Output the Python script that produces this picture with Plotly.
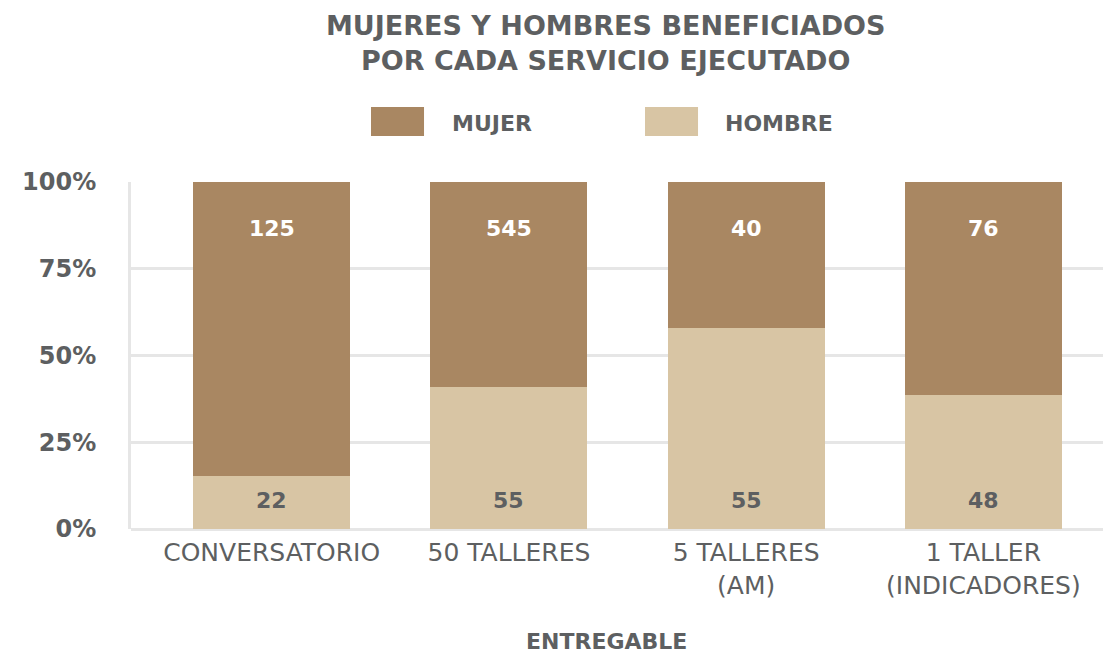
import plotly.graph_objects as go

# ---- data ----
categories = ["CONVERSATORIO", "50 TALLERES", "5 TALLERES<br>(AM)", "1 TALLER<br>(INDICADORES)"]
mujer_count = [125, 545, 40, 76]
hombre_count = [22, 55, 55, 48]
# share of each bar (percent) as drawn in the reference
hombre_pct = [15.2, 40.9, 57.8, 38.6]
mujer_pct = [84.8, 59.1, 42.2, 61.4]
y_ticks = [0, 25, 50, 75, 100]
y_tick_labels = ["0%", "25%", "50%", "75%", "100%"]

# ---- style ----
C_MUJER = "#A98762"
C_HOMBRE = "#D8C5A4"
C_TEXT = "#5d5f61"
C_GRID = "#e6e6e6"
FONT = "DejaVu Sans"

fig = go.Figure()
fig.add_trace(go.Bar(x=categories, y=hombre_pct, name="HOMBRE",
                     marker=dict(color=C_HOMBRE, line=dict(width=0)),
                     hoverinfo="skip", showlegend=False))
fig.add_trace(go.Bar(x=categories, y=mujer_pct, name="MUJER",
                     marker=dict(color=C_MUJER, line=dict(width=0)),
                     hoverinfo="skip", showlegend=False))

annotations = []
# value labels
for cat, m, h in zip(categories, mujer_count, hombre_count):
    annotations.append(dict(x=cat, y=100, xref="x", yref="y", yshift=-46,
                            text=f"<b>{m}</b>", showarrow=False,
                            font=dict(family=FONT, size=22, color="white")))
    annotations.append(dict(x=cat, y=0, xref="x", yref="y", yshift=29,
                            text=f"<b>{h}</b>", showarrow=False,
                            font=dict(family=FONT, size=22, color=C_TEXT)))

# title
annotations.append(dict(x=0.4847, y=1.402, xref="paper", yref="paper",
                        xanchor="center", yanchor="middle", showarrow=False,
                        text="<b>MUJERES Y HOMBRES BENEFICIADOS<br>POR CADA SERVICIO EJECUTADO</b>",
                        font=dict(family=FONT, size=27, color=C_TEXT)))
# x axis title
annotations.append(dict(x=0.4847, y=-0.3228, xref="paper", yref="paper",
                        xanchor="center", yanchor="middle", showarrow=False,
                        text="<b>ENTREGABLE</b>",
                        font=dict(family=FONT, size=22, color=C_TEXT)))

# legend (custom, large swatches)
shapes = []
legend_items = [("MUJER", C_MUJER, 0.2449, 0.299, 0.3255),
                ("HOMBRE", C_HOMBRE, 0.5245, 0.5786, 0.604)]
for name, col, x0, x1, xt in legend_items:
    shapes.append(dict(type="rect", xref="paper", yref="paper",
                       x0=x0, x1=x1, y0=1.1326, y1=1.216,
                       fillcolor=col, line=dict(width=0)))
    annotations.append(dict(x=xt, y=1.170, xref="paper", yref="paper",
                            xanchor="left", yanchor="middle", showarrow=False,
                            text=f"<b>{name}</b>",
                            font=dict(family=FONT, size=22, color=C_TEXT)))

fig.update_layout(
    width=1103, height=645,
    margin=dict(l=123, r=0, t=174, b=124),
    paper_bgcolor="white", plot_bgcolor="white",
    barmode="stack", bargap=0.3376,
    annotations=annotations, shapes=shapes,
    xaxis=dict(range=[-0.593, 3.538], showgrid=False, zeroline=False,
               showline=False, ticks="",
               tickfont=dict(family=FONT, size=25, color=C_TEXT),
               ticklabelstandoff=6),
    yaxis=dict(range=[0, 100], tickvals=y_ticks, ticktext=y_tick_labels,
               showgrid=True, gridcolor=C_GRID, gridwidth=3,
               zeroline=True, zerolinecolor=C_GRID, zerolinewidth=3,
               showline=True, linecolor=C_GRID, linewidth=3,
               ticks="", ticklabelstandoff=27,
               tickfont=dict(family=FONT, size=24, color=C_TEXT, weight="bold")),
)

fig.write_html("out.html")
